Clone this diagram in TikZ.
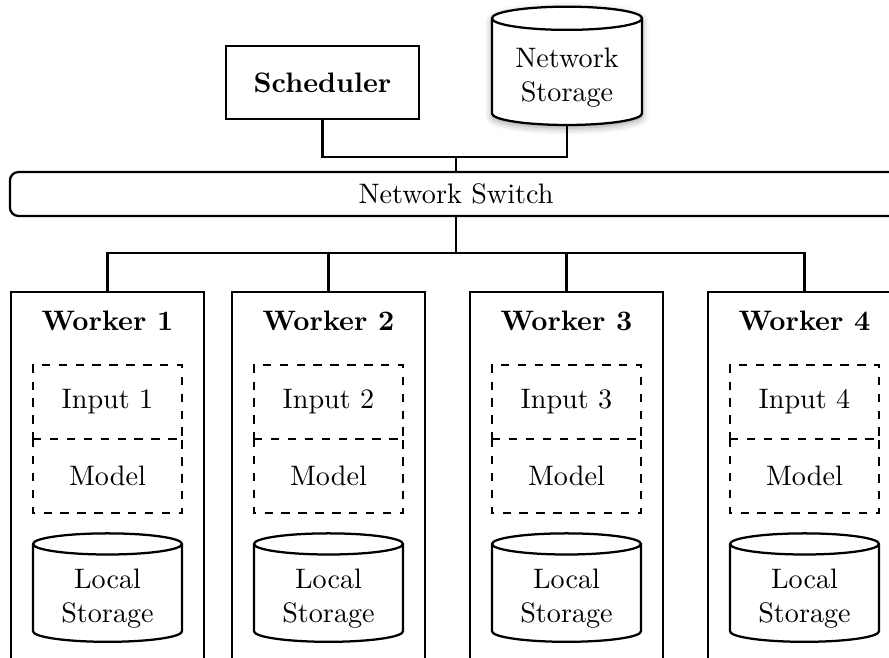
\documentclass[tikz,border=0pt]{standalone}
\usepackage{tikz}
\usetikzlibrary{shapes.geometric,shadows.blur}

\begin{document}
\begin{tikzpicture}[x=0.355pt, y=-0.355pt, thick]
    \useasboundingbox (0, 0) rectangle (889, 657);
    \clip (0, 0) rectangle (889, 657);

    \node[draw, minimum width=68.5pt, minimum height=25.9pt, font=\bfseries] (sched) at (322.5, 82.5) {Scheduler};
    \node[draw, fill=white, cylinder, shape border rotate=90, aspect=0.19, minimum width=53.3pt, minimum height=42pt, align=center, text depth=-3pt, blur shadow={shadow xshift=0pt, shadow yshift=-1pt, shadow blur radius=2.5pt}] (store) at (567, 75) {Network\\Storage};
    \node[draw, rounded corners=3pt, minimum width=316.7pt, minimum height=15.6pt] (switch) at (456, 194) {Network Switch};

    \node[draw, anchor=north, minimum width=68.5pt, minimum height=149pt] (w1) at (107.5, 291) {};
    \node[draw, anchor=north, minimum width=68.5pt, minimum height=149pt] (w2) at (328.5, 291) {};
    \node[draw, anchor=north, minimum width=68.5pt, minimum height=149pt] (w3) at (566.5, 291) {};
    \node[draw, anchor=north, minimum width=68.5pt, minimum height=149pt] (w4) at (804.5, 291) {};

    \node[font=\bfseries] (t1) at (107.5, 321) {Worker 1};
    \node[font=\bfseries] (t2) at (328.5, 321) {Worker 2};
    \node[font=\bfseries] (t3) at (566.5, 321) {Worker 3};
    \node[font=\bfseries] (t4) at (804.5, 321) {Worker 4};

    \node[draw, dashed, outer sep=0pt, minimum width=52.9pt, minimum height=26.3pt] (in1) at (107.5, 402) {Input 1};
    \node[draw, dashed, outer sep=0pt, minimum width=52.9pt, minimum height=26.3pt] (in2) at (328.5, 402) {Input 2};
    \node[draw, dashed, outer sep=0pt, minimum width=52.9pt, minimum height=26.3pt] (in3) at (566.5, 402) {Input 3};
    \node[draw, dashed, outer sep=0pt, minimum width=52.9pt, minimum height=26.3pt] (in4) at (804.5, 402) {Input 4};

    \node[outer sep=0pt, minimum width=52.9pt, minimum height=26.3pt] (m1) at (107.5, 476) {Model};
    \node[outer sep=0pt, minimum width=52.9pt, minimum height=26.3pt] (m2) at (328.5, 476) {Model};
    \node[outer sep=0pt, minimum width=52.9pt, minimum height=26.3pt] (m3) at (566.5, 476) {Model};
    \node[outer sep=0pt, minimum width=52.9pt, minimum height=26.3pt] (m4) at (804.5, 476) {Model};

    \draw[dashed] (in1.south west) |- (m1.south east) -- (in1.south east);
    \draw[dashed] (in2.south west) |- (m2.south east) -- (in2.south east);
    \draw[dashed] (in3.south west) |- (m3.south east) -- (in3.south east);
    \draw[dashed] (in4.south west) |- (m4.south east) -- (in4.south east);

    \node[draw, cylinder, shape border rotate=90, aspect=0.19, minimum width=52.9pt, minimum height=38.5pt, align=center, text depth=-3pt] (ls1) at (107.5, 596) {Local\\Storage};
    \node[draw, cylinder, shape border rotate=90, aspect=0.19, minimum width=52.9pt, minimum height=38.5pt, align=center, text depth=-3pt] (ls2) at (328.5, 596) {Local\\Storage};
    \node[draw, cylinder, shape border rotate=90, aspect=0.19, minimum width=52.9pt, minimum height=38.5pt, align=center, text depth=-3pt] (ls3) at (566.5, 596) {Local\\Storage};
    \node[draw, cylinder, shape border rotate=90, aspect=0.19, minimum width=52.9pt, minimum height=38.5pt, align=center, text depth=-3pt] (ls4) at (804.5, 596) {Local\\Storage};

    \coordinate (upbus) at (456, 157);
    \coordinate (downbus) at (456, 253);

    \draw (sched.south) |- (upbus) -| (store.south);
    \draw (upbus) -- (switch.north);
    \draw (switch.south) -- (downbus);
    \draw (w1.north) |- (downbus) -| (w4.north);
    \draw (w2.north) |- (downbus);
    \draw (w3.north) |- (downbus);
\end{tikzpicture}
\end{document}
